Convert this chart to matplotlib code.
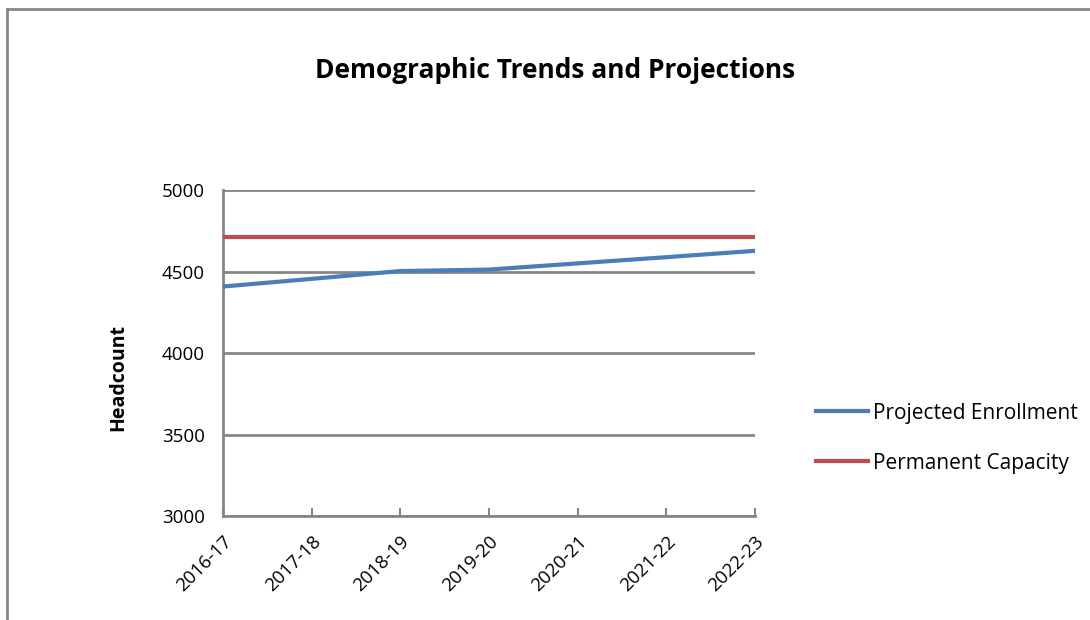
import matplotlib
matplotlib.use("Agg")
import matplotlib.pyplot as plt
from matplotlib.lines import Line2D

years = ["2016-17", "2017-18", "2018-19", "2019-20", "2020-21", "2021-22", "2022-23"]
enrollment = [4408, 4455, 4503, 4512, 4550, 4588, 4627]
capacity = [4713, 4713, 4713, 4713, 4713, 4713, 4713]

plt.rcParams['font.family'] = ['Open Sans', 'DejaVu Sans']

fig = plt.figure(figsize=(10.9, 6.2), dpi=100)
ax = fig.add_axes([0.2046, 0.1677, 0.488, 0.5258])

x = list(range(len(years)))
ax.plot(x, enrollment, color="#4a7ebb", lw=3, label="Projected Enrollment", zorder=3)
ax.plot(x, capacity, color="#be4b48", lw=3, label="Permanent Capacity", zorder=3)

ax.set_xlim(0, len(years) - 1)
ax.set_ylim(3000, 5000)
ax.set_yticks([3000, 3500, 4000, 4500, 5000])
ax.yaxis.grid(True, color="#868686", lw=2)
ax.set_axisbelow(True)
for s in ["top", "right"]:
    ax.spines[s].set_visible(False)
for s in ["left", "bottom"]:
    ax.spines[s].set_color("#868686")
    ax.spines[s].set_linewidth(2)

ax.set_xticks(x)
ax.set_xticklabels(years, rotation=45, ha="right", rotation_mode="anchor", fontsize=13.5)
ax.tick_params(axis="x", direction="in", length=6, width=1.5, color="#868686", pad=12)
ax.tick_params(axis="y", length=0, labelsize=13.5, pad=13)

ax.set_ylabel("Headcount", fontsize=14, fontweight="bold")
ax.yaxis.set_label_coords(-0.178, 0.426)
fig.text(0.509, 0.887, "Demographic Trends and Projections", ha="center", va="center",
         fontsize=19, fontweight="bold")

ax.legend(loc="center left", bbox_to_anchor=(1.115, 0.239), frameon=False, fontsize=15,
          handlelength=2.5, handletextpad=0.25, labelspacing=1.4,
          borderaxespad=0, borderpad=0)

# outer chart border (only top and left visible in the crop)
fig.add_artist(Line2D([0.006, 1.0], [0.986, 0.986], color="#868686", lw=2, transform=fig.transFigure))
fig.add_artist(Line2D([0.006, 0.006], [0.0, 0.986], color="#868686", lw=2, transform=fig.transFigure))

fig.savefig("out.png", dpi=100)
